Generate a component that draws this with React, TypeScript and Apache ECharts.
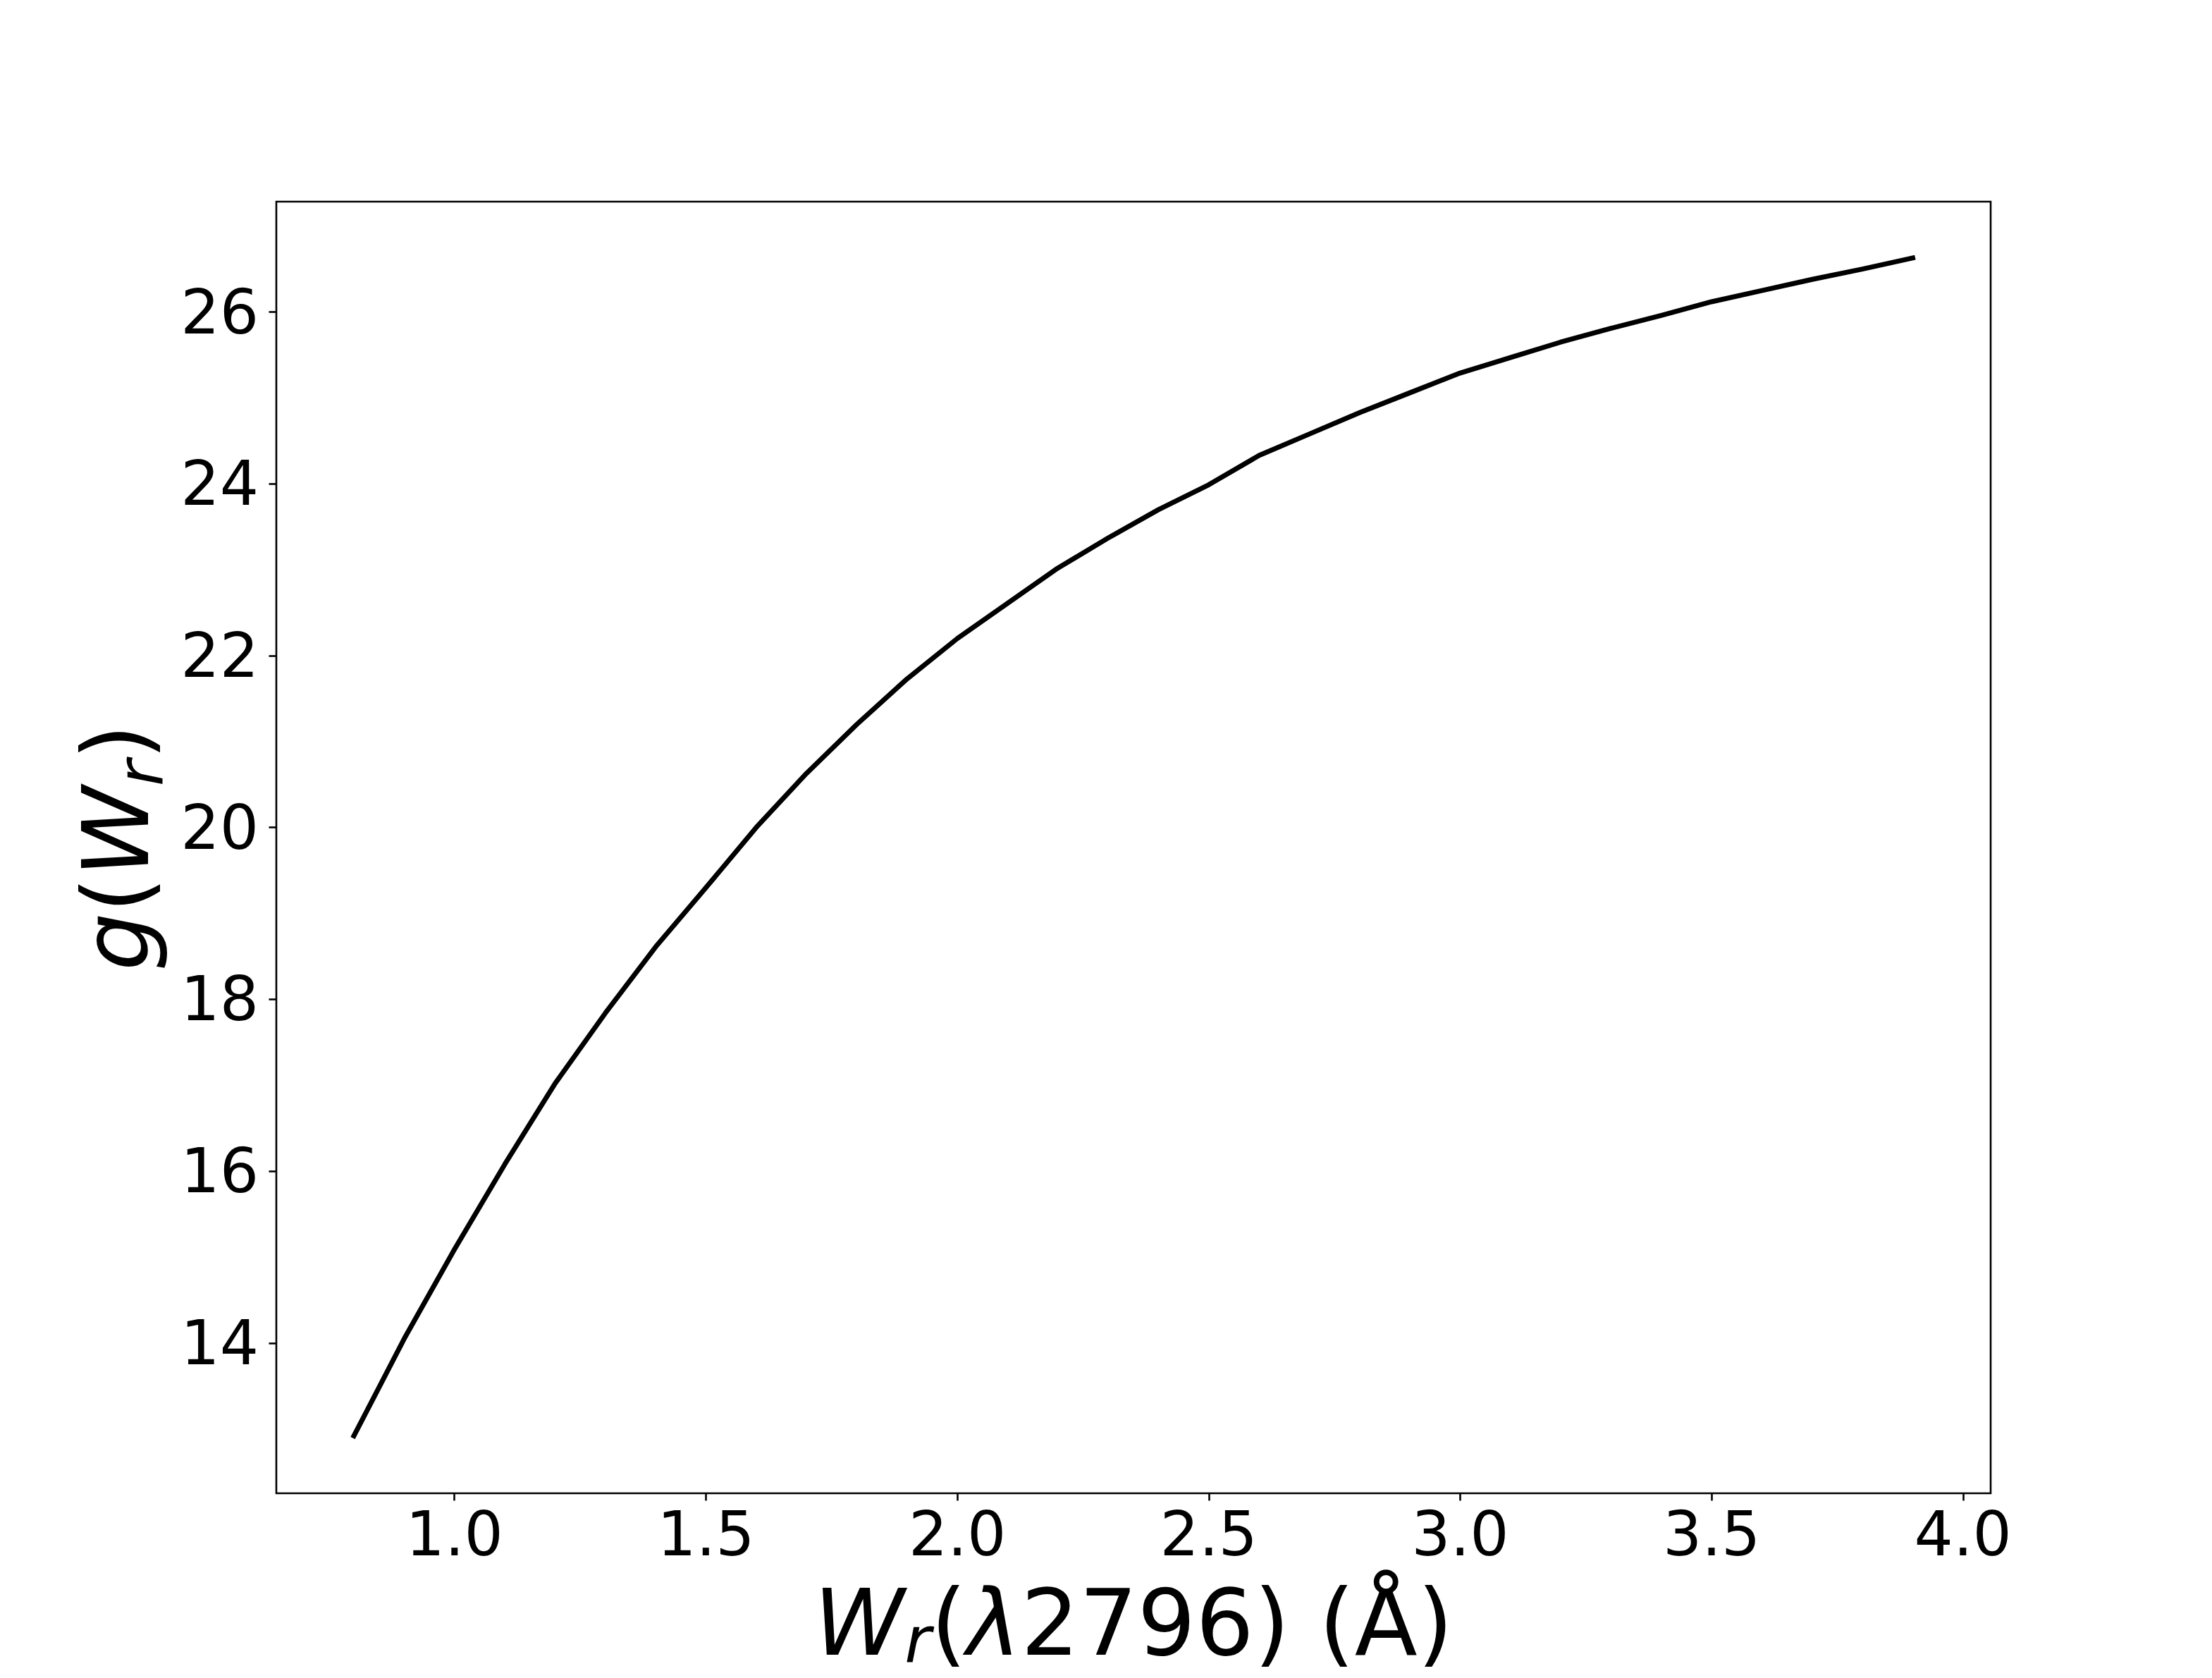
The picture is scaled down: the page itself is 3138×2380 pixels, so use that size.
import React, { useEffect, useRef } from 'react';
import * as echarts from 'echarts';

// Equivalent width W_r(λ2796) in Å
const W_R = [
  0.8, 0.9, 1.0, 1.1, 1.2, 1.3, 1.4, 1.5, 1.6, 1.7, 1.8, 1.9, 2.0, 2.1, 2.2, 2.3,
  2.4, 2.5, 2.6, 2.7, 2.8, 2.9, 3.0, 3.1, 3.2, 3.3, 3.4, 3.5, 3.6, 3.7, 3.8, 3.9,
];
// g(W_r)
const G_VALUES = [
  12.92, 14.05, 15.09, 16.08, 17.02, 17.84, 18.61, 19.3, 20.0, 20.63, 21.2, 21.73,
  22.2, 22.61, 23.02, 23.37, 23.7, 23.99, 24.33, 24.58, 24.83, 25.06, 25.29, 25.47,
  25.65, 25.81, 25.96, 26.12, 26.25, 26.38, 26.5, 26.63,
];
const X_TICKS = [1.0, 1.5, 2.0, 2.5, 3.0, 3.5, 4.0];
const Y_TICKS = [14, 16, 18, 20, 22, 24, 26];
const X_RANGE = [0.6457, 4.055];
const Y_RANGE = [12.251, 27.285];

const FONT = 'DejaVu Sans';
const TICK_FS = 87;
const NAME_FS = 130;
const SUB_FS = 91;

const makeRich = (lh: number, subLh: number) => ({
  n: { fontFamily: FONT, fontSize: NAME_FS, lineHeight: lh, color: '#000', verticalAlign: 'middle' },
  i: { fontFamily: FONT, fontSize: NAME_FS, lineHeight: lh, color: '#000', fontStyle: 'italic', verticalAlign: 'middle' },
  s: { fontFamily: FONT, fontSize: SUB_FS, lineHeight: subLh, color: '#000', fontStyle: 'italic', verticalAlign: 'bottom' },
});

export default function App() {
  const ref = useRef<HTMLDivElement>(null);
  useEffect(() => {
    const chart = echarts.init(ref.current!, null, { renderer: 'svg' });
    const data = W_R.map((x, i) => [x, G_VALUES[i]]);
    chart.setOption({
      animation: false,
      backgroundColor: '#ffffff',
      grid: {
        left: 392,
        right: 314,
        top: 286,
        bottom: 262,
        show: true,
        borderColor: '#000',
        borderWidth: 2.6,
        backgroundColor: 'transparent',
        containLabel: false,
        outerBoundsMode: 'none',
      },
      xAxis: {
        type: 'value',
        min: X_RANGE[0],
        max: X_RANGE[1],
        splitLine: { show: false },
        axisLine: { show: false },
        axisTick: {
          show: true,
          inside: false,
          length: 10.5,
          lineStyle: { color: '#000', width: 2.6 },
          customValues: X_TICKS,
        },
        axisLabel: {
          show: true,
          customValues: X_TICKS,
          formatter: (v: number) => v.toFixed(1),
          fontFamily: FONT,
          fontSize: TICK_FS,
          color: '#000',
          margin: 14,
        },
        name: '{i|W}{s|r}{n|(}{i|λ}{n|2796) (Å)}',
        nameLocation: 'middle',
        nameGap: 114,
        nameTextStyle: { rich: makeRich(140, 73), fontFamily: FONT, fontSize: NAME_FS, lineHeight: 140, color: '#000' },
      },
      yAxis: {
        type: 'value',
        min: Y_RANGE[0],
        max: Y_RANGE[1],
        splitLine: { show: false },
        axisLine: { show: false },
        axisTick: {
          show: true,
          inside: false,
          length: 10.5,
          lineStyle: { color: '#000', width: 2.6 },
          customValues: Y_TICKS,
        },
        axisLabel: {
          show: true,
          customValues: Y_TICKS,
          formatter: (v: number) => String(Math.round(v)),
          fontFamily: FONT,
          fontSize: TICK_FS,
          color: '#000',
          margin: 25,
        },
        name: '{i|g}{n|(}{i|W}{s|r}{n|)}',
        nameLocation: 'middle',
        nameGap: 118,
        nameTextStyle: { rich: makeRich(160, 92), fontFamily: FONT, fontSize: NAME_FS, lineHeight: 160, color: '#000' },
      },
      series: [
        {
          type: 'line',
          data,
          showSymbol: false,
          symbol: 'none',
          smooth: false,
          lineStyle: { color: '#000', width: 7, cap: 'square', join: 'round' },
          itemStyle: { color: '#000' },
        },
      ],
    });
    return () => chart.dispose();
  }, []);
  return (
    <div
      ref={ref}
      style={{ position: 'fixed', left: 0, top: 0, width: 3138, height: 2380, background: '#fff' }}
    />
  );
}
